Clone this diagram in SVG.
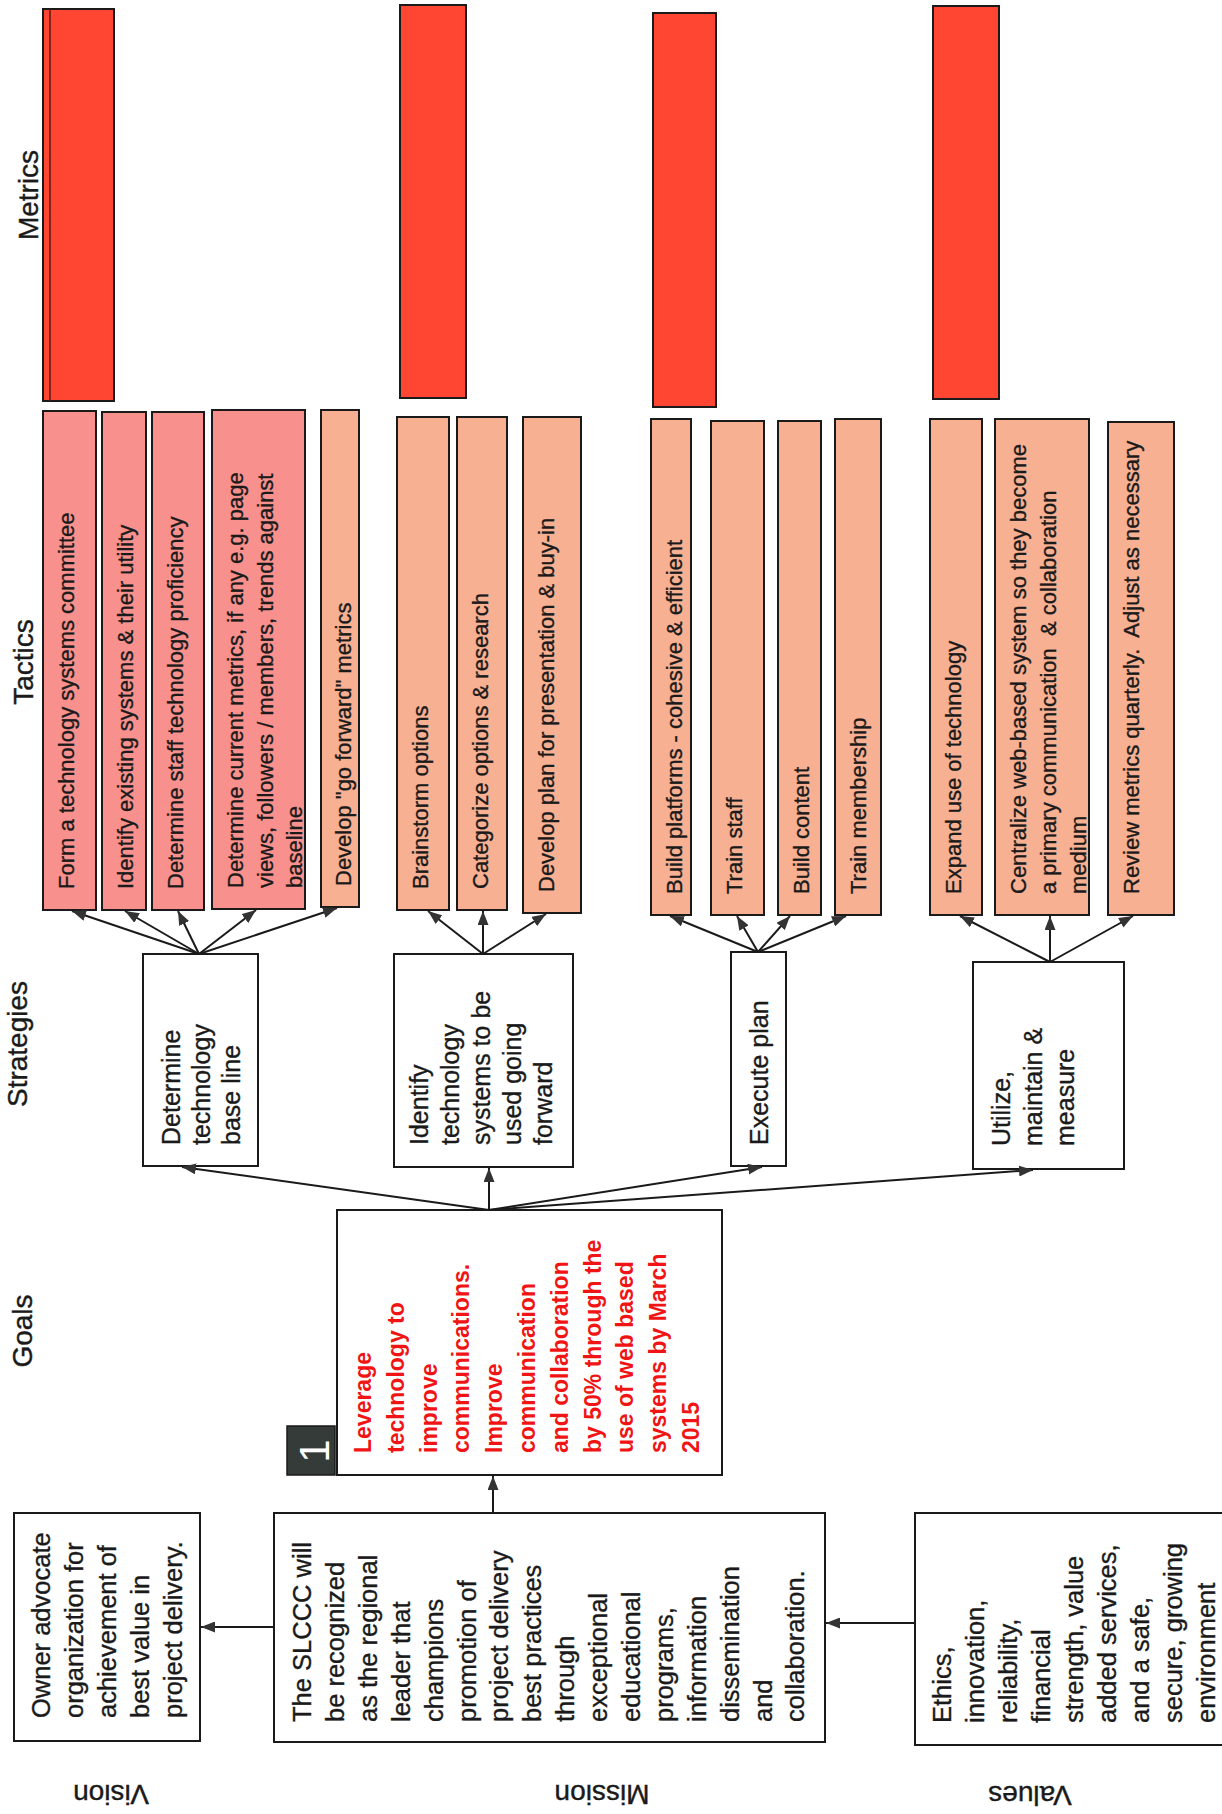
<svg xmlns="http://www.w3.org/2000/svg" width="1222" height="1814" viewBox="0 0 1222 1814">
<defs>
<style>
.mt{fill:#FF4632;stroke:#1a1a1a;stroke-width:2}
.tp{fill:#F8918E;stroke:#1a1a1a;stroke-width:2}
.tc{fill:#F8B093;stroke:#1a1a1a;stroke-width:2}
.bx{fill:#ffffff;stroke:#1a1a1a;stroke-width:2}
.t22{font-family:"Liberation Sans",Arial,sans-serif;font-size:22px;fill:#1a1a1a;stroke:#1a1a1a;stroke-width:0.35}
.t25{font-family:"Liberation Sans",Arial,sans-serif;font-size:25px;fill:#1a1a1a;stroke:#1a1a1a;stroke-width:0.35}
.t26{font-family:"Liberation Sans",Arial,sans-serif;font-size:25.5px;fill:#1a1a1a;stroke:#1a1a1a;stroke-width:0.35}
.tg{font-family:"Liberation Sans",Arial,sans-serif;font-size:23px;font-weight:bold;fill:#F01414}
.lb{font-family:"Liberation Sans",Arial,sans-serif;font-size:28px;fill:#1a1a1a;stroke:#1a1a1a;stroke-width:0.4;text-anchor:middle}
.cn{stroke:#1a1a1a;stroke-width:2;fill:none;marker-end:url(#ah)}
</style>
<marker id="ah" markerUnits="userSpaceOnUse" markerWidth="14" markerHeight="11" refX="14" refY="5.5" orient="auto">
<path d="M0,0 L14,5.5 L0,11 z" fill="#333"/>
</marker>
</defs>
<rect width="1222" height="1814" fill="#ffffff"/>

<g id="labels">
<text class="lb" transform="translate(38,195) rotate(-90)">Metrics</text>
<text class="lb" transform="translate(33,662) rotate(-90)">Tactics</text>
<text class="lb" transform="translate(27,1044) rotate(-90)">Strategies</text>
<text class="lb" transform="translate(32,1331) rotate(-90)">Goals</text>
<text class="lb" transform="translate(111,1785) rotate(180)">Vision</text>
<text class="lb" transform="translate(602,1785) rotate(180)">Mission</text>
<text class="lb" transform="translate(1030,1786) rotate(180)">Values</text>
</g>

<g id="metrics">
<g id="metric1"><rect class="mt" x="43" y="9" width="71" height="392"/><line x1="50" y1="9" x2="50" y2="401" stroke="#5a1a10" stroke-width="1.5"/></g>
<g id="metric2"><rect class="mt" x="400" y="5" width="66" height="393"/></g>
<g id="metric3"><rect class="mt" x="653" y="13" width="63" height="394"/></g>
<g id="metric4"><rect class="mt" x="933" y="6" width="66" height="393"/></g>
</g>

<g id="tactics">
<g id="t1"><rect class="tp" x="43" y="411" width="53" height="499"/><text class="t22" transform="translate(74,889) rotate(-90)">Form a technology systems committee</text></g>
<g id="t2"><rect class="tp" x="102" y="412" width="44" height="498"/><text class="t22" transform="translate(133,889) rotate(-90)">Identify existing systems &amp; their utility</text></g>
<g id="t3"><rect class="tp" x="152" y="412" width="52" height="498"/><text class="t22" transform="translate(183,889) rotate(-90)">Determine staff technology proficiency</text></g>
<g id="t4"><rect class="tp" x="212" y="410" width="93" height="499"/><text class="t22" transform="translate(243,888) rotate(-90)"><tspan x="0" y="0">Determine current metrics, if any e.g. page</tspan><tspan x="0" dy="29.5">views, followers / members, trends against</tspan><tspan x="0" dy="29.5">baseline</tspan></text></g>
<g id="t5"><rect class="tc" x="321" y="410" width="38" height="497"/><text class="t22" transform="translate(351,886) rotate(-90)">Develop "go forward" metrics</text></g>
<g id="t6"><rect class="tc" x="397" y="417" width="52" height="493"/><text class="t22" transform="translate(428,889) rotate(-90)">Brainstorm options</text></g>
<g id="t7"><rect class="tc" x="457" y="417" width="50" height="493"/><text class="t22" transform="translate(488,889) rotate(-90)">Categorize options &amp; research</text></g>
<g id="t8"><rect class="tc" x="523" y="417" width="58" height="496"/><text class="t22" transform="translate(554,892) rotate(-90)">Develop plan for presentation &amp; buy-in</text></g>
<g id="t9"><rect class="tc" x="651" y="419" width="40" height="496"/><text class="t22" transform="translate(682,894) rotate(-90)">Build platforms - cohesive &amp; efficient</text></g>
<g id="t10"><rect class="tc" x="711" y="421" width="53" height="494"/><text class="t22" transform="translate(742,894) rotate(-90)">Train staff</text></g>
<g id="t11"><rect class="tc" x="778" y="421" width="43" height="494"/><text class="t22" transform="translate(809,894) rotate(-90)">Build content</text></g>
<g id="t12"><rect class="tc" x="835" y="419" width="46" height="496"/><text class="t22" transform="translate(866,894) rotate(-90)">Train membership</text></g>
<g id="t13"><rect class="tc" x="930" y="419" width="52" height="496"/><text class="t22" transform="translate(961,894) rotate(-90)">Expand use of technology</text></g>
<g id="t14"><rect class="tc" x="995" y="419" width="94" height="496"/><text class="t22" transform="translate(1026,894) rotate(-90)"><tspan x="0" y="0">Centralize web-based system so they become</tspan><tspan x="0" dy="30">a primary communication&#160; &amp; collaboration</tspan><tspan x="0" dy="30">medium</tspan></text></g>
<g id="t15"><rect class="tc" x="1108" y="422" width="66" height="493"/><text class="t22" transform="translate(1139,894) rotate(-90)">Review metrics quarterly.&#160; Adjust as necessary</text></g>
</g>

<g id="strategies">
<g id="s1"><rect class="bx" x="143" y="954" width="115" height="212"/><text class="t25" transform="translate(180,1145) rotate(-90)"><tspan x="0" y="0">Determine</tspan><tspan x="0" dy="30">technology</tspan><tspan x="0" dy="30">base line</tspan></text></g>
<g id="s2"><rect class="bx" x="394" y="954" width="179" height="213"/><text class="t25" transform="translate(428,1145) rotate(-90)"><tspan x="0" y="0">Identify</tspan><tspan x="0" dy="31">technology</tspan><tspan x="0" dy="31">systems to be</tspan><tspan x="0" dy="31">used going</tspan><tspan x="0" dy="31">forward</tspan></text></g>
<g id="s3"><rect class="bx" x="731" y="952" width="55" height="214"/><text class="t25" transform="translate(768,1145) rotate(-90)">Execute plan</text></g>
<g id="s4"><rect class="bx" x="973" y="962" width="151" height="207"/><text class="t25" transform="translate(1010,1146) rotate(-90)"><tspan x="0" y="0">Utilize,</tspan><tspan x="0" dy="32">maintain &amp;</tspan><tspan x="0" dy="32">measure</tspan></text></g>
</g>

<g id="goal">
<rect class="bx" x="337" y="1210" width="385" height="265"/>
<rect x="287" y="1426" width="48" height="49" fill="#353b38" stroke="#1a1a1a" stroke-width="1.5"/>
<text transform="translate(329,1451) rotate(-90)" font-family="Liberation Sans, Arial, sans-serif" font-size="42" fill="#ffffff" text-anchor="middle">1</text>
<text class="tg" transform="translate(371,1453) rotate(-90)"><tspan x="0" y="0">Leverage</tspan><tspan x="0" dy="32.8">technology to</tspan><tspan x="0" dy="32.8">improve</tspan><tspan x="0" dy="32.8">communications.</tspan><tspan x="0" dy="32.8">Improve</tspan><tspan x="0" dy="32.8">communication</tspan><tspan x="0" dy="32.8">and collaboration</tspan><tspan x="0" dy="32.8">by 50% through the</tspan><tspan x="0" dy="32.8">use of web based</tspan><tspan x="0" dy="32.8">systems by March</tspan><tspan x="0" dy="32.8">2015</tspan></text>
</g>

<g id="vision"><rect class="bx" x="14" y="1513" width="186" height="228"/><text class="t26" transform="translate(50,1718) rotate(-90)"><tspan x="0" y="0">Owner advocate</tspan><tspan x="0" dy="33">organization for</tspan><tspan x="0" dy="33">achievement of</tspan><tspan x="0" dy="33">best value in</tspan><tspan x="0" dy="33">project delivery.</tspan></text></g>

<g id="mission"><rect class="bx" x="274" y="1513" width="551" height="229"/><text class="t26" transform="translate(311,1722) rotate(-90)"><tspan x="0" y="0">The SLCCC will</tspan><tspan x="0" dy="32.9">be recognized</tspan><tspan x="0" dy="32.9">as the regional</tspan><tspan x="0" dy="32.9">leader that</tspan><tspan x="0" dy="32.9">champions</tspan><tspan x="0" dy="32.9">promotion of</tspan><tspan x="0" dy="32.9">project delivery</tspan><tspan x="0" dy="32.9">best practices</tspan><tspan x="0" dy="32.9">through</tspan><tspan x="0" dy="32.9">exceptional</tspan><tspan x="0" dy="32.9">educational</tspan><tspan x="0" dy="32.9">programs,</tspan><tspan x="0" dy="32.9">information</tspan><tspan x="0" dy="32.9">dissemination</tspan><tspan x="0" dy="32.9">and</tspan><tspan x="0" dy="32.9">collaboration.</tspan></text></g>

<g id="values"><rect class="bx" x="915" y="1513" width="320" height="232"/><text class="t26" transform="translate(951,1723) rotate(-90)"><tspan x="0" y="0">Ethics,</tspan><tspan x="0" dy="33">innovation,</tspan><tspan x="0" dy="33">reliability,</tspan><tspan x="0" dy="33">financial</tspan><tspan x="0" dy="33">strength, value</tspan><tspan x="0" dy="33">added services,</tspan><tspan x="0" dy="33">and a safe,</tspan><tspan x="0" dy="33">secure, growing</tspan><tspan x="0" dy="33">environment</tspan></text></g>

<g id="connectors">
<line class="cn" x1="199" y1="954" x2="72" y2="911"/>
<line class="cn" x1="199" y1="954" x2="125" y2="911"/>
<line class="cn" x1="199" y1="954" x2="178" y2="911"/>
<line class="cn" x1="199" y1="954" x2="256" y2="910"/>
<line class="cn" x1="199" y1="954" x2="337" y2="908"/>
<line class="cn" x1="483" y1="954" x2="428" y2="911"/>
<line class="cn" x1="483" y1="954" x2="483" y2="911"/>
<line class="cn" x1="483" y1="954" x2="546" y2="914"/>
<line class="cn" x1="758" y1="952" x2="670" y2="916"/>
<line class="cn" x1="758" y1="952" x2="737" y2="916"/>
<line class="cn" x1="758" y1="952" x2="790" y2="916"/>
<line class="cn" x1="758" y1="952" x2="846" y2="916"/>
<line class="cn" x1="1050" y1="962" x2="960" y2="916"/>
<line class="cn" x1="1050" y1="962" x2="1050" y2="916"/>
<line class="cn" x1="1050" y1="962" x2="1133" y2="916"/>
<line class="cn" x1="489" y1="1210" x2="182" y2="1167"/>
<line class="cn" x1="489" y1="1210" x2="489" y2="1168"/>
<line class="cn" x1="489" y1="1210" x2="762" y2="1167"/>
<line class="cn" x1="489" y1="1210" x2="1033" y2="1170"/>
<line class="cn" x1="493" y1="1513" x2="493" y2="1476"/>
<line class="cn" x1="274" y1="1627" x2="201" y2="1627"/>
<line class="cn" x1="915" y1="1623" x2="826" y2="1623"/>
</g>
</svg>
